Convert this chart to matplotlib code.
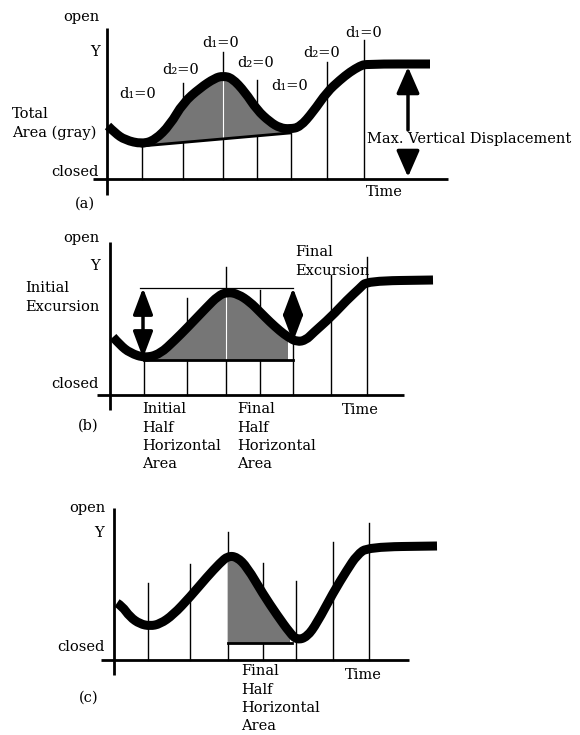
import numpy as np
import matplotlib
matplotlib.use('Agg')
import matplotlib.pyplot as plt
from matplotlib.path import Path
from matplotlib.patches import PathPatch

# ---------------- data (time units / level units) -------------
# Panel (a)
a_curve_t = [1, 8, 18, 35, 48, 63, 76, 93, 108, 116, 125, 138, 150, 163, 173, 183, 193, 206, 220, 233, 243, 253, 259, 323]
a_curve_v = [53, 46, 39, 35, 39, 54, 76, 91, 101, 103, 101, 87, 69, 57, 51, 50, 52, 67, 87, 99, 107, 113, 115, 115]
a_lines_t = [35, 76, 116, 150, 184, 220, 257]
a_lines_top = [33, 96, 127, 99, 46, 117, 139]
a_line_labels = ["d\u2081=0", "d\u2082=0", "d\u2081=0", "d\u2082=0", "d\u2081=0", "d\u2082=0", "d\u2081=0"]
a_base_t = [35, 183]
a_base_v = [33, 46]
a_arrow_t = 301
a_arrow_up = [49, 112]
a_arrow_down = [24, 2]

# Panel (b)
b_curve_t = [3, 10, 20, 35, 50, 65, 77, 97, 108, 117, 128, 140, 150, 160, 170, 178, 187, 196, 203, 221, 237, 250, 257, 323]
b_curve_v = [58, 50, 42, 37, 41, 55, 67, 88, 99, 103, 101, 93, 83, 73, 64, 58, 53, 55, 62, 78, 95, 107, 114, 115]
b_lines_t = [34, 77, 116, 150, 183, 221, 257]
b_lines_top = [35, 97, 128, 105, 51, 120, 138]
b_peak_level = 107
b_peak_span = [30, 183]
b_base_v = 35
b_fill_span = [34, 183]
b_arrow_init = [33, 107, 37]
b_arrow_final = [183, 107, 53]

# Panel (c)
c_curve_t = [3, 8, 16, 26, 36, 46, 59, 76, 93, 106, 114, 123, 133, 149, 163, 176, 183, 193, 203, 219, 233, 243, 254, 323]
c_curve_v = [57, 54, 43, 36, 34, 36, 45, 63, 83, 97, 104, 103, 93, 66, 45, 27, 20, 23, 37, 67, 90, 105, 113, 114]
c_lines_t = [34, 76, 114, 149, 182, 219, 255]
c_lines_top = [77, 96, 128, 97, 79, 118, 137]
c_base_v = 17
c_fill_span = [114, 178]

# ---------------- figure ----------------
W, H = 580, 735
fig = plt.figure(figsize=(W / 100, H / 100), dpi=100)
FONT = ['DejaVu Serif', 'DejaVu Sans']
FS = 10.5
FILL = '#767676'


def panel(x0, y0, top, bottom):
    ax = fig.add_axes([0, 1 - bottom / H, 1, (bottom - top) / H])
    ax.set_xlim(-x0, W - x0)
    ax.set_ylim(y0 - bottom, y0 - top)
    ax.axis('off')
    return ax


def ftext(x, y, s, ha='left', size=FS):
    fig.text(x / W, 1 - y / H, s, ha=ha, va='center', fontsize=size, family=FONT, color='black')


def axes_lines(ax, ylo, yhi, xlo, xhi):
    ax.plot([0, 0], [ylo, yhi], color='black', lw=2.0, solid_capstyle='butt')
    ax.plot([xlo, xhi], [0, 0], color='black', lw=2.0, solid_capstyle='butt')


def vlines(ax, ts, tops):
    for t, top in zip(ts, tops):
        ax.plot([t, t], [0, top], color='black', lw=1.0)


def smooth_path(t, v):
    pts = np.column_stack([t, v]).astype(float)
    verts = [pts[0]]
    codes = [Path.MOVETO]
    for i in range(1, len(pts) - 1):
        mid = (pts[i] + pts[i + 1]) / 2
        verts += [pts[i], mid]
        codes += [Path.CURVE3, Path.CURVE3]
    verts.append(pts[-1])
    codes.append(Path.LINETO)
    return Path(verts, codes)


def curve(ax, t, v):
    ax.add_patch(PathPatch(smooth_path(t, v), fill=False, lw=6.5, edgecolor='black',
                           capstyle='butt', joinstyle='round', zorder=5))


def arrow(ax, t, v_from, v_to, style='-|>', hw=0.35):
    ax.annotate('', xy=(t, v_to), xytext=(t, v_from),
                arrowprops=dict(arrowstyle=f'{style},head_length=0.8,head_width={hw}',
                                lw=2.5, color='black', shrinkA=0, shrinkB=0,
                                mutation_scale=20), zorder=6)


# ---- panel (a)
ax = panel(107, 179, 0, 235)
axes_lines(ax, -16, 151, -14, 341)
vlines(ax, a_lines_t, a_lines_top)
ct = np.array(a_curve_t, float)
cv = np.array(a_curve_v, float)
m = (ct >= a_base_t[0]) & (ct <= a_base_t[1])
base = np.interp(ct[m], a_base_t, a_base_v)
ax.fill_between(ct[m], cv[m], base, facecolor=FILL, edgecolor='none', zorder=2)
ax.plot([116, 116], [np.interp(116, a_base_t, a_base_v), 103], color='white', lw=0.8, zorder=3)
ax.plot(a_base_t, a_base_v, color='black', lw=2.0, zorder=4)
curve(ax, ct, cv)
arrow(ax, a_arrow_t, a_arrow_up[0], a_arrow_up[1])
arrow(ax, a_arrow_t, a_arrow_down[0], a_arrow_down[1])

ftext(99, 17, 'open', 'right')
ftext(95, 52, 'Y', 'center')
ftext(12, 114, 'Total')
ftext(12, 133, 'Area (gray)')
ftext(99, 172, 'closed', 'right')
ftext(85, 204, '(a)', 'center')
ftext(384, 192, 'Time', 'center')
ftext(367, 139, 'Max. Vertical Displacement')
for (x, y), s in zip([(138, 94), (181, 70), (221, 43), (256, 63), (290, 86), (322, 53), (364, 33)], a_line_labels):
    ftext(x, y, s, 'center')

# ---- panel (b)
ax = panel(110, 395, 235, 470)
axes_lines(ax, -15, 153, -13, 294)
vlines(ax, b_lines_t, b_lines_top)
ct = np.array(b_curve_t, float)
cv = np.array(b_curve_v, float)
m = (ct >= b_fill_span[0]) & (ct <= b_fill_span[1])
ax.fill_between(ct[m], cv[m], b_base_v, facecolor=FILL, edgecolor='none', zorder=2)
ax.plot([116, 116], [b_base_v, 103], color='white', lw=0.8, zorder=3)
ax.plot(b_fill_span, [b_base_v, b_base_v], color='black', lw=2.0, zorder=4)
ax.plot(b_peak_span, [b_peak_level, b_peak_level], color='black', lw=0.9, zorder=4)
curve(ax, ct, cv)
arrow(ax, b_arrow_init[0], b_arrow_init[1], b_arrow_init[2], '<|-|>', 0.3)
arrow(ax, b_arrow_final[0], b_arrow_final[1], b_arrow_final[2], '<|-|>', 0.3)

ftext(99, 238, 'open', 'right')
ftext(95, 266, 'Y', 'center')
ftext(25, 288, 'Initial')
ftext(25, 307, 'Excursion')
ftext(99, 384, 'closed', 'right')
ftext(295, 252, 'Final')
ftext(295, 271, 'Excursion')
ftext(360, 410, 'Time', 'center')
ftext(88, 426, '(b)', 'center')
for i, s in enumerate(['Initial', 'Half', 'Horizontal', 'Area']):
    ftext(142, 409 + 18.5 * i, s)
for i, s in enumerate(['Final', 'Half', 'Horizontal', 'Area']):
    ftext(237, 409 + 18.5 * i, s)

# ---- panel (c)
ax = panel(114, 660, 490, 735)
axes_lines(ax, -15, 152, -13, 295)
vlines(ax, c_lines_t, c_lines_top)
ct = np.array(c_curve_t, float)
cv = np.array(c_curve_v, float)
m = (ct >= c_fill_span[0]) & (ct <= c_fill_span[1])
ax.fill_between(ct[m], cv[m], c_base_v, facecolor=FILL, edgecolor='none', zorder=2)
ax.plot(c_fill_span, [c_base_v, c_base_v], color='black', lw=2.0, zorder=4)
curve(ax, ct, cv)

ftext(105, 508, 'open', 'right')
ftext(99, 533, 'Y', 'center')
ftext(105, 647, 'closed', 'right')
ftext(363, 675, 'Time', 'center')
ftext(89, 698, '(c)', 'center')
for i, s in enumerate(['Final', 'Half', 'Horizontal', 'Area']):
    ftext(241, 671 + 18.5 * i, s)

fig.savefig('out.png', dpi=100, facecolor='white')
